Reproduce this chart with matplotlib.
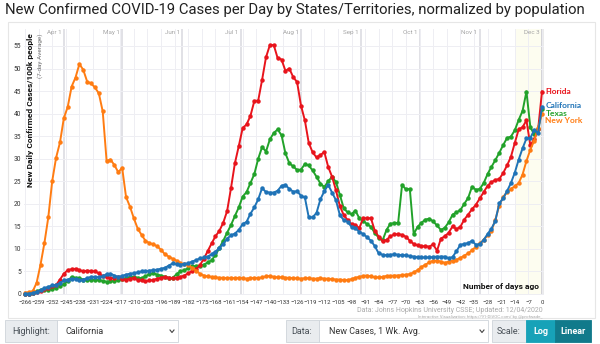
import matplotlib
matplotlib.use('Agg')
import matplotlib.pyplot as plt
from matplotlib.patches import Rectangle
from matplotlib.lines import Line2D

plt.rcParams['font.family'] = ['Roboto', 'DejaVu Sans']

# days ago, every second day
days = list(range(-266, 1, 2))

florida = [0.1, 0.1, 0.2, 0.4, 0.7, 1.0, 1.3, 1.7, 2.0, 3.2,
           4.5, 5.3, 5.5, 5.6, 5.3, 5.0, 5.2, 5.1, 5.0, 4.6,
           3.9, 3.7, 3.5, 3.6, 3.8, 3.4, 3.1, 3.4, 3.5, 3.1,
           3.0, 2.8, 3.0, 3.1, 3.4, 3.6, 3.8, 3.6, 3.5, 3.6,
           3.8, 4.1, 4.6, 5.1, 5.5, 6.4, 7.8, 9.5, 11.2, 12.8,
           14.0, 15.8, 18.4, 23.5, 29.0, 32.8, 36.8, 37.6, 39.5, 42.8,
           42.9, 47.5, 52.5, 55.2, 55.2, 52.3, 52.0, 49.5, 50.0, 48.1,
           47.0, 41.8, 38.5, 33.5, 31.4, 30.3, 30.8, 31.5, 28.2, 26.0,
           23.0, 19.5, 17.5, 16.4, 15.5, 15.3, 14.6, 16.8, 16.8, 16.8,
           14.0, 12.7, 11.7, 12.0, 12.8, 13.2, 13.3, 13.1, 12.7, 11.8,
           11.1, 10.8, 10.6, 10.6, 10.5, 11.0, 9.6, 12.3, 12.8, 13.6,
           15.0, 14.4, 14.9, 16.5, 17.6, 18.8, 19.8, 21.2, 22.6, 24.0,
           24.8, 25.3, 25.5, 26.8, 28.5, 30.4, 33.5, 36.5, 37.0, 38.5,
           33.0, 34.3, 36.5, 44.9]

california = [0.1, 0.1, 0.2, 0.5, 0.8, 1.3, 1.6, 1.9, 2.0, 2.4,
              3.0, 3.2, 3.4, 3.3, 3.1, 3.2, 3.5, 3.8, 3.8, 3.7,
              3.9, 4.4, 4.5, 4.1, 3.8, 4.0, 4.3, 4.5, 4.6, 4.8,
              5.0, 5.0, 5.2, 5.3, 5.4, 5.6, 5.8, 6.3, 6.8, 6.6,
              6.5, 6.7, 6.8, 7.2, 7.5, 7.9, 8.1, 8.3, 8.8, 9.4,
              10.2, 11.1, 12.3, 13.0, 13.4, 14.2, 15.5, 16.0, 17.8, 19.2,
              21.0, 23.5, 22.6, 22.5, 22.5, 22.9, 24.0, 24.2, 23.3, 22.7,
              22.8, 21.8, 21.4, 17.0, 17.0, 18.0, 21.0, 22.8, 24.2, 22.5,
              20.8, 17.5, 16.4, 16.0, 14.9, 14.6, 13.8, 13.3, 12.6, 11.8,
              10.6, 9.0, 8.7, 8.6, 8.7, 8.8, 8.7, 8.6, 8.6, 8.4,
              8.3, 8.2, 8.1, 8.1, 8.1, 8.2, 8.3, 8.3, 8.3, 7.9,
              8.2, 9.5, 10.9, 11.1, 11.3, 11.8, 10.9, 11.1, 12.0, 13.3,
              14.5, 16.2, 20.1, 21.2, 22.8, 24.6, 26.9, 29.8, 32.3, 34.5,
              34.6, 36.4, 35.7, 41.5]

texas = [0.0, 0.1, 0.2, 0.6, 0.9, 0.9, 0.9, 1.1, 1.4, 1.8,
         2.2, 2.9, 3.8, 3.6, 3.5, 3.2, 3.1, 3.1, 3.1, 3.1,
         2.9, 2.7, 2.8, 2.9, 3.1, 3.3, 3.5, 3.8, 3.8, 3.6,
         3.5, 3.9, 4.4, 4.6, 4.3, 4.1, 3.8, 3.5, 3.6, 4.4,
         5.0, 5.3, 5.7, 6.1, 6.2, 6.3, 6.5, 7.0, 7.5, 8.6,
         10.2, 11.8, 13.6, 15.3, 17.3, 19.2, 21.6, 22.6, 24.6, 26.6,
         30.0, 32.6, 31.6, 34.3, 35.7, 36.5, 35.2, 31.2, 29.0, 28.3,
         27.5, 27.6, 28.8, 28.5, 27.4, 26.0, 24.5, 23.7, 25.0, 26.0,
         24.8, 22.0, 19.0, 18.1, 17.7, 18.5, 16.8, 16.2, 15.5, 14.9,
         13.5, 12.5, 11.9, 14.2, 15.6, 15.7, 15.8, 24.2, 23.2, 23.3,
         13.3, 14.9, 15.8, 16.5, 16.7, 16.1, 15.2, 14.2, 14.7, 15.9,
         17.6, 18.1, 18.6, 20.0, 21.3, 23.8, 23.1, 23.3, 24.6, 26.6,
         28.2, 29.7, 31.3, 33.0, 34.6, 34.9, 36.3, 38.6, 40.6, 44.9,
         37.0, 35.4, 36.6, 41.0]

new_york = [0.3, 0.4, 0.6, 2.5, 6.5, 11.3, 17.0, 25.0, 30.2, 33.6,
            39.0, 41.5, 46.0, 48.0, 51.0, 49.7, 47.1, 46.7, 45.8, 44.5,
            40.5, 29.5, 29.8, 28.6, 27.0, 28.0, 21.5, 19.4, 16.8, 14.5,
            13.1, 11.8, 11.3, 11.0, 10.6, 9.8, 8.8, 8.3, 7.8, 7.4,
            6.8, 6.6, 6.4, 5.8, 5.2, 4.5, 4.1, 3.9, 3.8, 3.7,
            3.6, 3.6, 3.5, 3.6, 3.5, 3.6, 3.5, 3.4, 3.5, 3.6,
            3.5, 3.7, 3.9, 4.0, 3.8, 3.7, 3.7, 3.6, 3.6, 3.5,
            3.5, 3.4, 3.5, 3.5, 3.4, 3.4, 3.5, 3.4, 3.4, 3.3,
            3.2, 3.2, 3.1, 3.1, 3.3, 3.6, 3.8, 4.0, 4.1, 3.9,
            3.7, 3.7, 3.8, 4.0, 4.0, 4.1, 4.1, 4.2, 4.3, 4.4,
            4.8, 5.3, 6.0, 6.5, 7.0, 7.4, 7.4, 7.2, 6.9, 7.2,
            7.4, 7.6, 8.0, 8.5, 9.0, 9.7, 10.5, 11.2, 12.0, 13.0,
            14.0, 16.5, 19.6, 21.5, 22.6, 23.3, 23.9, 24.6, 26.5, 29.5,
            32.0, 34.0, 36.8, 40.0]

states = ['Texas', 'Florida', 'New York', 'California']
series = {'Florida': florida, 'California': california, 'Texas': texas, 'New York': new_york}
colors = {'Florida': '#e8141c', 'California': '#1f73b7', 'Texas': '#22a22a', 'New York': '#ff7c12'}
label_y = {'Florida': 44.9, 'California': 41.8, 'Texas': 40.1, 'New York': 38.5}

month_labels = ['Apr 1', 'May 1', 'Jun 1', 'Jul 1', 'Aug 1', 'Sep 1', 'Oct 1', 'Nov 1', 'Dec 3']
month_days = [-246, -216, -185, -155, -124, -93, -63, -32, 0]

W, H = 600, 344
fig = plt.figure(figsize=(6, 3.44), dpi=100)


def fx(x):
    return x / W


def fy(y):
    return 1 - y / H


# card frame
fig.add_artist(Rectangle((fx(8), fy(318)), fx(587), 296 / H, transform=fig.transFigure,
                         fill=False, edgecolor='#e6e6e6', lw=0.8))

ax = fig.add_axes([24 / W, 1 - 295.35 / H, 520 / W, 266.5 / H])
ax.set_xlim(-266.5, 1.03)
ax.set_ylim(-0.3, 58.8)
for s in ax.spines.values():
    s.set_visible(False)

ax.axvspan(-13.5, 0, color='#fdfdf0', zorder=0)
ax.set_xticks(range(-266, 1, 7))
ax.set_yticks(range(0, 56, 5))
ax.grid(True, color='#eeeef3', lw=0.7, zorder=0)
ax.tick_params(axis='both', length=0, labelsize=4.3, colors='#333333')
ax.tick_params(axis='x', pad=3)
ax.tick_params(axis='y', pad=2, labelsize=4.8)

for d, lab in zip(month_days, month_labels):
    ax.axvline(d, color='#dcdce2', lw=1.2, zorder=1)
    ax.text(d - 1.2, 57.9, lab, ha='right', va='center', fontsize=4.5, color='#a5a5a5')
ax.axvline(0, color='#9a9aa5', lw=1.0, zorder=1)

for st in states:
    c = colors[st]
    ax.plot(days, series[st], color=c, lw=1.4, marker='o', ms=2.2, mfc=c, mec=c,
            zorder=3, clip_on=False)
    ax.text(1.8, label_y[st], st, color=c, fontsize=6.0, fontweight='bold',
            ha='left', va='center', family=['Lato', 'DejaVu Sans'])

ax.text(-1.5, 1.6, 'Number of days ago', ha='right', va='center', fontsize=6,
        fontweight='bold', color='#111111', zorder=4)

fig.text(fx(31), fy(33), 'New Daily Confirmed Cases/100k people', rotation=90,
         ha='center', va='top', fontsize=6, fontweight='bold', color='#111111')
fig.text(fx(40), fy(33), '(7-day Average)', rotation=90, ha='center', va='top',
         fontsize=4.6, color='#777777')

fig.text(fx(5), fy(10), 'New Confirmed COVID-19 Cases per Day by States/Territories, normalized by population',
         ha='left', va='center', fontsize=10.7, color='#222222')

fig.text(fx(543), fy(310), 'Data: Johns Hopkins University CSSE; Updated: 12/04/2020',
         ha='right', va='center', fontsize=5, color='#aaaaaa')
fig.text(fx(543), fy(317), 'Interactive Visualization: https://91-DIVOC.com/ by @profwade_',
         ha='right', va='center', fontsize=3.2, color='#aaaaaa')

# controls
def box(x0, x1, face, edge='#ced4da'):
    fig.add_artist(Rectangle((fx(x0), fy(342)), fx(x1 - x0), 22 / H, transform=fig.transFigure,
                             facecolor=face, edgecolor=edge, lw=0.6))


def chevron(x):
    fig.add_artist(Line2D([fx(x - 2), fx(x), fx(x + 2)], [fy(330), fy(332.5), fy(330)],
                          transform=fig.transFigure, color='#444444', lw=0.8))


box(5, 57, '#e9ecef')
box(57, 178, 'white')
fig.text(fx(31), fy(331), 'Highlight:', ha='center', va='center', fontsize=6.5, color='#495057')
fig.text(fx(66), fy(331), 'California', ha='left', va='center', fontsize=6.5, color='#333333')
chevron(172)

box(286, 319, '#e9ecef')
box(319, 488, 'white')
fig.text(fx(302), fy(331), 'Data:', ha='center', va='center', fontsize=6.5, color='#495057')
fig.text(fx(329), fy(331), 'New Cases, 1 Wk. Avg.', ha='left', va='center', fontsize=6.5, color='#333333')
chevron(482)

box(492, 526, '#e9ecef')
box(526, 555, '#17a2b8', '#17a2b8')
box(555, 591, '#117a8b', '#117a8b')
fig.text(fx(509), fy(331), 'Scale:', ha='center', va='center', fontsize=6.5, color='#495057')
fig.text(fx(540.5), fy(331), 'Log', ha='center', va='center', fontsize=6.5, color='white', fontweight='bold')
fig.text(fx(573), fy(331), 'Linear', ha='center', va='center', fontsize=6.5, color='white', fontweight='bold')

fig.savefig('out.png', dpi=100)
